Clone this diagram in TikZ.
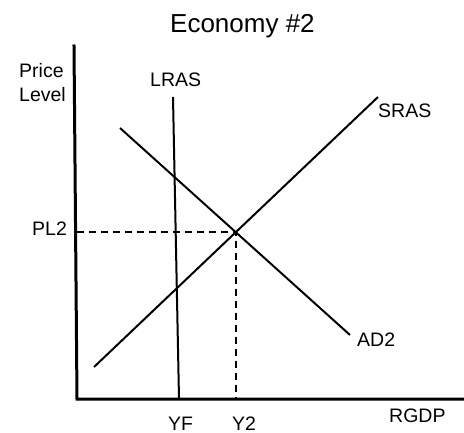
\documentclass[tikz,border=0pt]{standalone}
\usepackage{fontspec}
\setmainfont{Liberation Sans}
\begin{document}
\begin{tikzpicture}[x=1pt,y=-1pt,
  lbl/.style={anchor=base west,inner sep=0pt,font=\fontsize{19.5}{24}\selectfont},
  ttl/.style={anchor=base west,inner sep=0pt,font=\fontsize{26}{30}\selectfont},
  axis/.style={line width=3pt,line cap=rect},
  curve/.style={line width=2pt},
  guide/.style={line width=1.6pt,dash pattern=on 7pt off 5pt}]
\useasboundingbox (0,0) rectangle (464,433);
% title and labels
\node[ttl] (title) at (170,33) {Economy \#2};
\node[lbl] (price) at (19,78) {Price};
\node[lbl] (level) at (19,102) {Level};
\node[lbl] (lraslbl) at (150,87) {LRAS};
\node[lbl] (sraslbl) at (378,118) {SRAS};
\node[lbl] (pllbl) at (32,236) {PL2};
\node[lbl] (adlbl) at (357,347) {AD2};
\node[lbl] (yflbl) at (168,430) {YF};
\node[lbl] (y2lbl) at (232,430) {Y2};
\node[lbl] (rgdplbl) at (389,422) {RGDP};
% coordinates
\coordinate (ytop) at (74,46);
\coordinate (origin) at (77,399);
\coordinate (xend) at (463,399);
\coordinate (lrasT) at (173,97);
\coordinate (lrasB) at (179,399);
\coordinate (srasA) at (94,367);
\coordinate (srasB) at (378,97);
\coordinate (adA) at (120,128);
\coordinate (adB) at (350,335);
\coordinate (eq) at (236,232);
\coordinate (plaxis) at (77,232);
\coordinate (y2axis) at (236,399);
% guides
\draw[guide] (plaxis) -- (eq) -- (y2axis);
% curves
\draw[curve] (lrasT) -- (lrasB);
\draw[curve] (srasA) -- (srasB);
\draw[curve] (adA) -- (adB);
% axes
\draw[axis] (ytop) -- (origin) -- (xend);
\end{tikzpicture}
\end{document}
